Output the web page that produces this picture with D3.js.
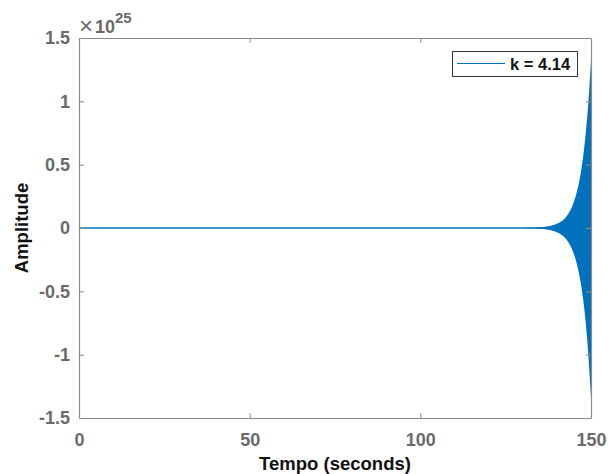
<!DOCTYPE html>
<html><head><meta charset="utf-8">
<script src="https://cdn.jsdelivr.net/npm/d3@7"></script>
<style>
html,body{margin:0;padding:0;background:#fff;}
svg{display:block;font-family:"Liberation Sans",Arial,sans-serif;}
</style></head>
<body>
<svg id="chart" width="608" height="474"></svg>
<script>
// ---- data (amplitude in units of 1e25) ----
const envTime  = [0, 120, 126, 130, 132, 134, 136, 138, 139, 140, 141, 142, 143, 144, 145, 146, 147, 148, 148.5, 149, 149.5, 150];
const envUpper = [0, 0, 0.0003, 0.0008, 0.0017, 0.0035, 0.0074, 0.0155, 0.023, 0.033, 0.047, 0.068, 0.099, 0.143, 0.208, 0.30, 0.435, 0.63, 0.76, 0.91, 1.10, 1.32];
const envLower = [0, 0, -0.0003, -0.0008, -0.0017, -0.0035, -0.0074, -0.0155, -0.023, -0.033, -0.047, -0.068, -0.099, -0.143, -0.208, -0.30, -0.435, -0.63, -0.76, -0.92, -1.12, -1.34];
const xTicks = [0, 50, 100, 150];
const yTicks = [-1.5, -1, -0.5, 0, 0.5, 1, 1.5];
const yTickLabels = ["-1.5", "-1", "-0.5", "0", "0.5", "1", "1.5"];
const legendLabel = "k = 4.14";
const xLabel = "Tempo (seconds)";
const yLabel = "Amplitude";
const exponent = "25";

// ---- layout ----
const L = 79, R = 591, T = 38, B = 418;
const svg = d3.select("#chart");
const x = d3.scaleLinear().domain([0, 150]).range([L, R]);
const y = d3.scaleLinear().domain([-1.5, 1.5]).range([B, T]);
const axisCol = "#8a8a8a", textCol = "#6a6a6a", lineCol = "#0072BD";

const env = envTime.map((t, i) => ({t, u: envUpper[i], l: envLower[i]}));

// data
svg.append("path")
  .datum(env)
  .attr("fill", lineCol)
  .attr("d", d3.area().x(d => x(d.t)).y0(d => y(d.l)).y1(d => y(d.u)).curve(d3.curveMonotoneX));
svg.append("path")
  .datum(env)
  .attr("fill", "none").attr("stroke", lineCol).attr("stroke-width", 1.3)
  .attr("d", d3.line().x(d => x(d.t)).y(() => y(0)));

// axes
function styleAxis(g, labels) {
  g.select(".domain").attr("stroke", axisCol).attr("stroke-width", 1.2);
  g.selectAll(".tick line").attr("stroke", axisCol).attr("stroke-width", 1);
  g.selectAll(".tick text")
    .attr("fill", textCol)
    .style("font-size", "18px").style("font-weight", "bold")
    .style("font-family", "'Liberation Sans', Arial, sans-serif");
  if (!labels) g.selectAll(".tick text").remove();
}
const gB = svg.append("g").attr("transform", `translate(0,${B})`)
  .call(d3.axisBottom(x).tickValues(xTicks).tickSizeInner(-5).tickSizeOuter(0).tickPadding(15).tickFormat(d3.format("d")));
styleAxis(gB, true);
const gT = svg.append("g").attr("transform", `translate(0,${T})`)
  .call(d3.axisTop(x).tickValues(xTicks).tickSizeInner(-5).tickSizeOuter(0));
styleAxis(gT, false);
const gL = svg.append("g").attr("transform", `translate(${L},0)`)
  .call(d3.axisLeft(y).tickValues(yTicks).tickSizeInner(-5).tickSizeOuter(0).tickPadding(9)
    .tickFormat((d, i) => yTickLabels[i]));
styleAxis(gL, true);
const gR = svg.append("g").attr("transform", `translate(${R},0)`)
  .call(d3.axisRight(y).tickValues(yTicks).tickSizeInner(-5).tickSizeOuter(0));
styleAxis(gR, false);
// hide ticks at box corners
[gB, gT].forEach(g => g.selectAll(".tick line").filter(d => d === 0 || d === 150).remove());
[gL, gR].forEach(g => g.selectAll(".tick line").filter(d => d === -1.5 || d === 1.5).remove());

// exponent label
svg.append("text").attr("x", 79).attr("y", 34)
  .attr("fill", textCol).style("font-size", "24px").style("font-weight", "normal").text("\u00d7");
const ex = svg.append("text").attr("x", 95).attr("y", 33)
  .attr("fill", textCol).style("font-size", "18px");
ex.append("tspan").text("10").style("font-weight", "bold");
ex.append("tspan").attr("dy", -10).style("font-size", "15px").style("font-weight", "bold").text(exponent);

// axis labels
svg.append("text").attr("x", (L + R) / 2).attr("y", 470)
  .attr("text-anchor", "middle").attr("fill", "#111")
  .style("font-size", "18.5px").style("font-weight", "bold").text(xLabel);
svg.append("text").attr("transform", `translate(28,${(T + B) / 2}) rotate(-90)`)
  .attr("text-anchor", "middle").attr("fill", "#111")
  .style("font-size", "18.5px").style("font-weight", "bold").text(yLabel);

// legend
const lg = svg.append("g");
lg.append("rect").attr("x", 452.5).attr("y", 51.5).attr("width", 125).attr("height", 25)
  .attr("fill", "#fff").attr("stroke", "#333").attr("stroke-width", 1);
lg.append("line").attr("x1", 457).attr("x2", 505).attr("y1", 63.5).attr("y2", 63.5)
  .attr("stroke", lineCol).attr("stroke-width", 1.2);
lg.append("text").attr("x", 510).attr("y", 69.5).attr("fill", "#111")
  .style("font-size", "16.5px").style("font-weight", "bold").text(legendLabel);
</script>
</body></html>
